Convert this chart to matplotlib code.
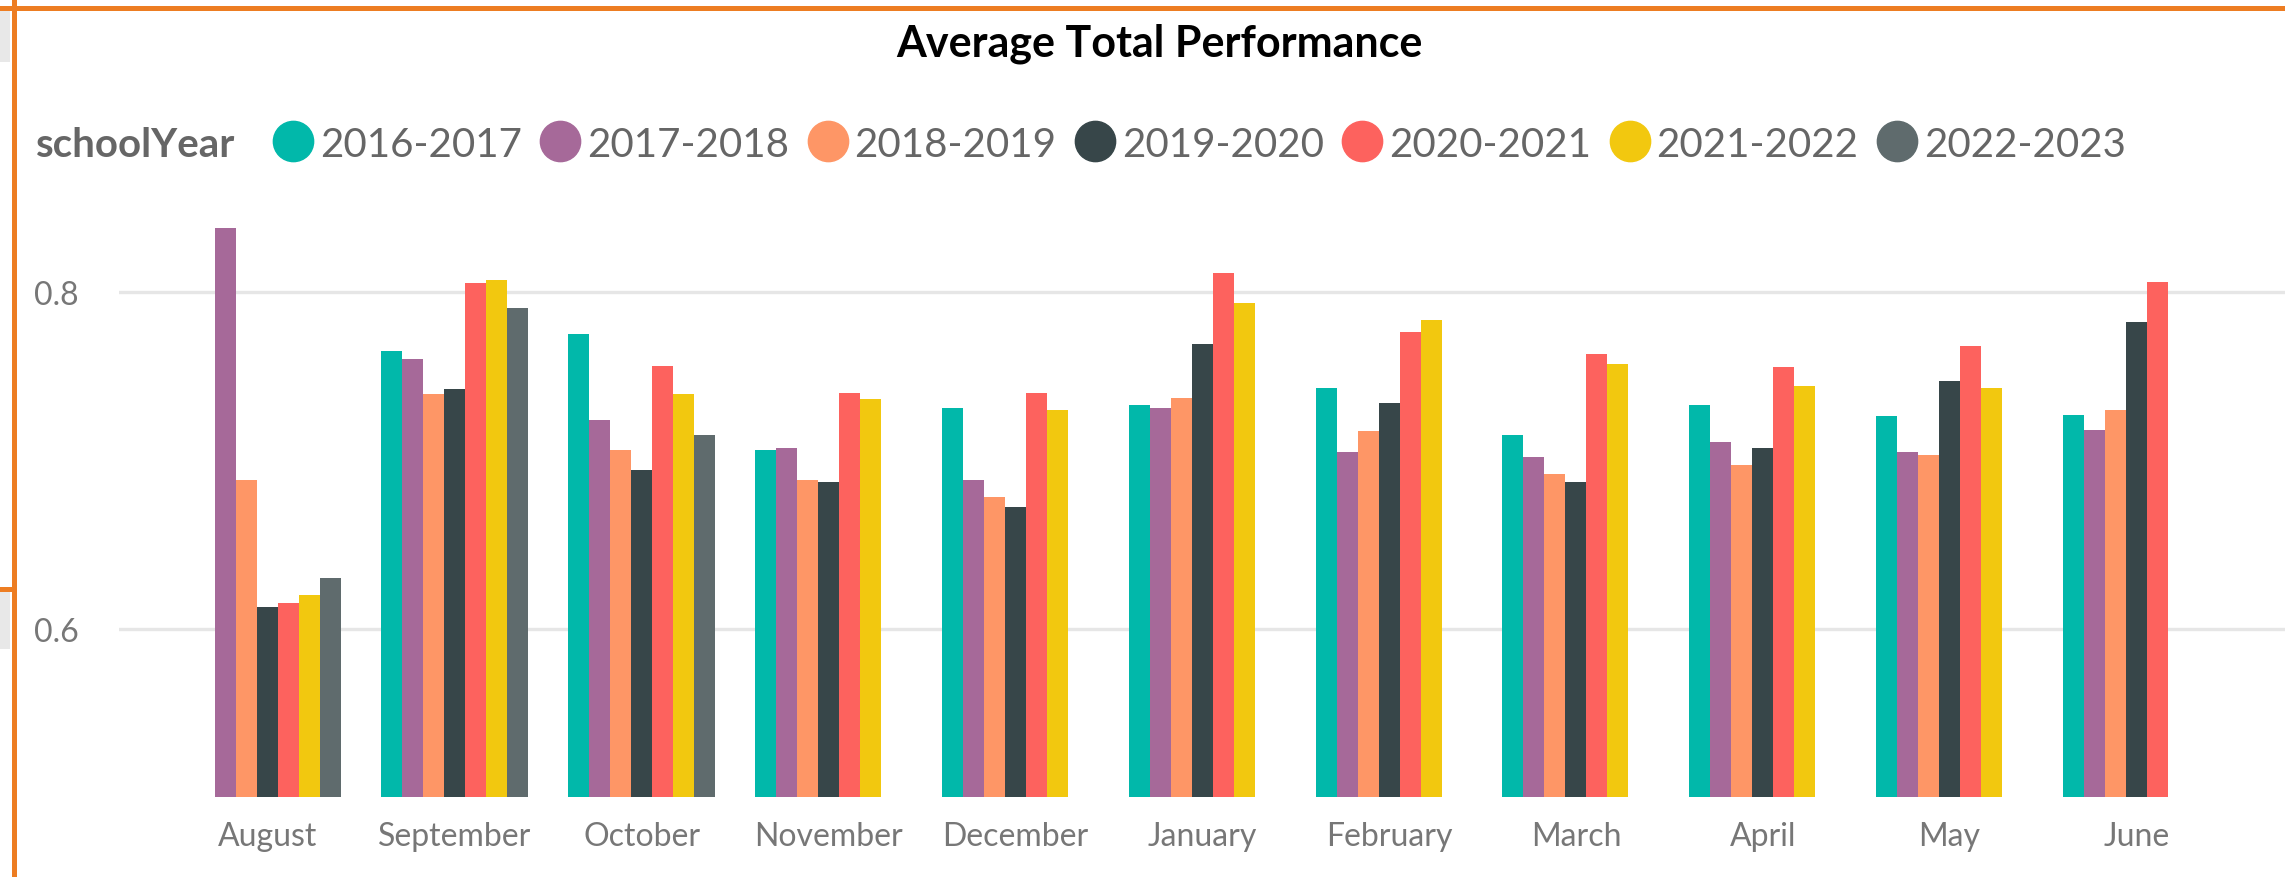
import matplotlib
matplotlib.use('Agg')
import matplotlib.pyplot as plt
import numpy as np
from matplotlib.patches import Rectangle
from matplotlib.lines import Line2D

plt.rcParams['font.family'] = ['Lato', 'DejaVu Sans']

# ------------------------------------------------------------
# Data
# ------------------------------------------------------------
months = ['August', 'September', 'October', 'November', 'December', 'January',
          'February', 'March', 'April', 'May', 'June']
school_years = ['2016-2017', '2017-2018', '2018-2019', '2019-2020',
                '2020-2021', '2021-2022', '2022-2023']

nan = np.nan
y2016 = [nan, 0.765, 0.775, 0.706, 0.731, 0.733, 0.743, 0.715, 0.733, 0.726, 0.727]
y2017 = [0.838, 0.760, 0.724, 0.707, 0.688, 0.731, 0.705, 0.702, 0.711, 0.705, 0.718]
y2018 = [0.688, 0.739, 0.706, 0.688, 0.678, 0.737, 0.717, 0.692, 0.697, 0.703, 0.730]
y2019 = [0.613, 0.742, 0.694, 0.687, 0.672, 0.769, 0.734, 0.687, 0.707, 0.747, 0.782]
y2020 = [0.615, 0.805, 0.756, 0.740, 0.740, 0.811, 0.776, 0.763, 0.755, 0.768, 0.806]
y2021 = [0.620, 0.807, 0.739, 0.736, 0.730, 0.793, 0.783, 0.757, 0.744, 0.743, nan]
y2022 = [0.630, 0.790, 0.715, nan, nan, nan, nan, nan, nan, nan, nan]
series = [y2016, y2017, y2018, y2019, y2020, y2021, y2022]

colors = ['#01B8AA', '#A66999', '#FE9666', '#374649', '#FD625E', '#F2C80F', '#5F6B6D']

# ------------------------------------------------------------
# Figure (2285 x 878 px)
# ------------------------------------------------------------
W, H = 2285, 878
fig = plt.figure(figsize=(W / 100, H / 100), dpi=100)

ax = fig.add_axes([119 / W, (H - 798) / H, (W - 119) / W, 598 / H])

x = np.arange(len(months))
bw = 0.1124
for j, (vals, c) in enumerate(zip(series, colors)):
    ax.bar(x + (j - 3) * bw, vals, width=bw, color=c, bottom=0,
           linewidth=0, zorder=3, label=school_years[j])

ax.set_ylim(0.5, 0.855)
ax.set_xlim(-0.797, 10.795)
ax.set_yticks([0.6, 0.8])
ax.set_yticklabels(['0.6', '0.8'])
ax.set_xticks(x)
ax.set_xticklabels(months)
ax.tick_params(axis='x', length=0, pad=17, labelsize=23, labelcolor='#777777')
ax.tick_params(axis='y', length=0, pad=29, labelsize=23, labelcolor='#777777')
ax.grid(axis='y', color='#e6e6e6', linewidth=2.4, zorder=0)
ax.set_axisbelow(True)
for s in ax.spines.values():
    s.set_visible(False)

# Title
fig.text(1159 / W, 1 - 57 / H, 'Average Total Performance', ha='center',
         va='baseline', fontsize=31, fontweight='bold', color='black')

# Legend (drawn by hand, Power BI style)
leg_y = 1 - 157 / H
fig.text(36 / W, leg_y, 'schoolYear', ha='left', va='baseline', fontsize=29,
         fontweight='bold', color='#666666')
for i, (name, c) in enumerate(zip(school_years, colors)):
    cx = 293 + i * 267.3
    fig.add_artist(Line2D([cx / W], [1 - 142 / H], marker='o', markersize=29,
                          color=c, linestyle='none', transform=fig.transFigure))
    fig.text((cx + 27) / W, leg_y, name, ha='left', va='baseline', fontsize=29,
             color='#666666')

# Frame bits from the report canvas
fig.add_artist(Rectangle((0, 1 - 63 / H), 10 / W, 52 / H, transform=fig.transFigure,
                         color='#e8e8e8', lw=0))
fig.add_artist(Rectangle((0, 1 - 650 / H), 10 / W, 57 / H, transform=fig.transFigure,
                         color='#e8e8e8', lw=0))
fig.add_artist(Line2D([0, 1], [1 - 8.5 / H] * 2, color='#ED7D22', lw=3.6,
                      transform=fig.transFigure))
fig.add_artist(Line2D([13.5 / W] * 2, [0, 1], color='#ED7D22', lw=3.6,
                      transform=fig.transFigure))
fig.add_artist(Line2D([0, 14 / W], [1 - 590 / H] * 2, color='#ED7D22', lw=3.6,
                      transform=fig.transFigure))

fig.savefig('out.png', dpi=100)
plt.close(fig)
